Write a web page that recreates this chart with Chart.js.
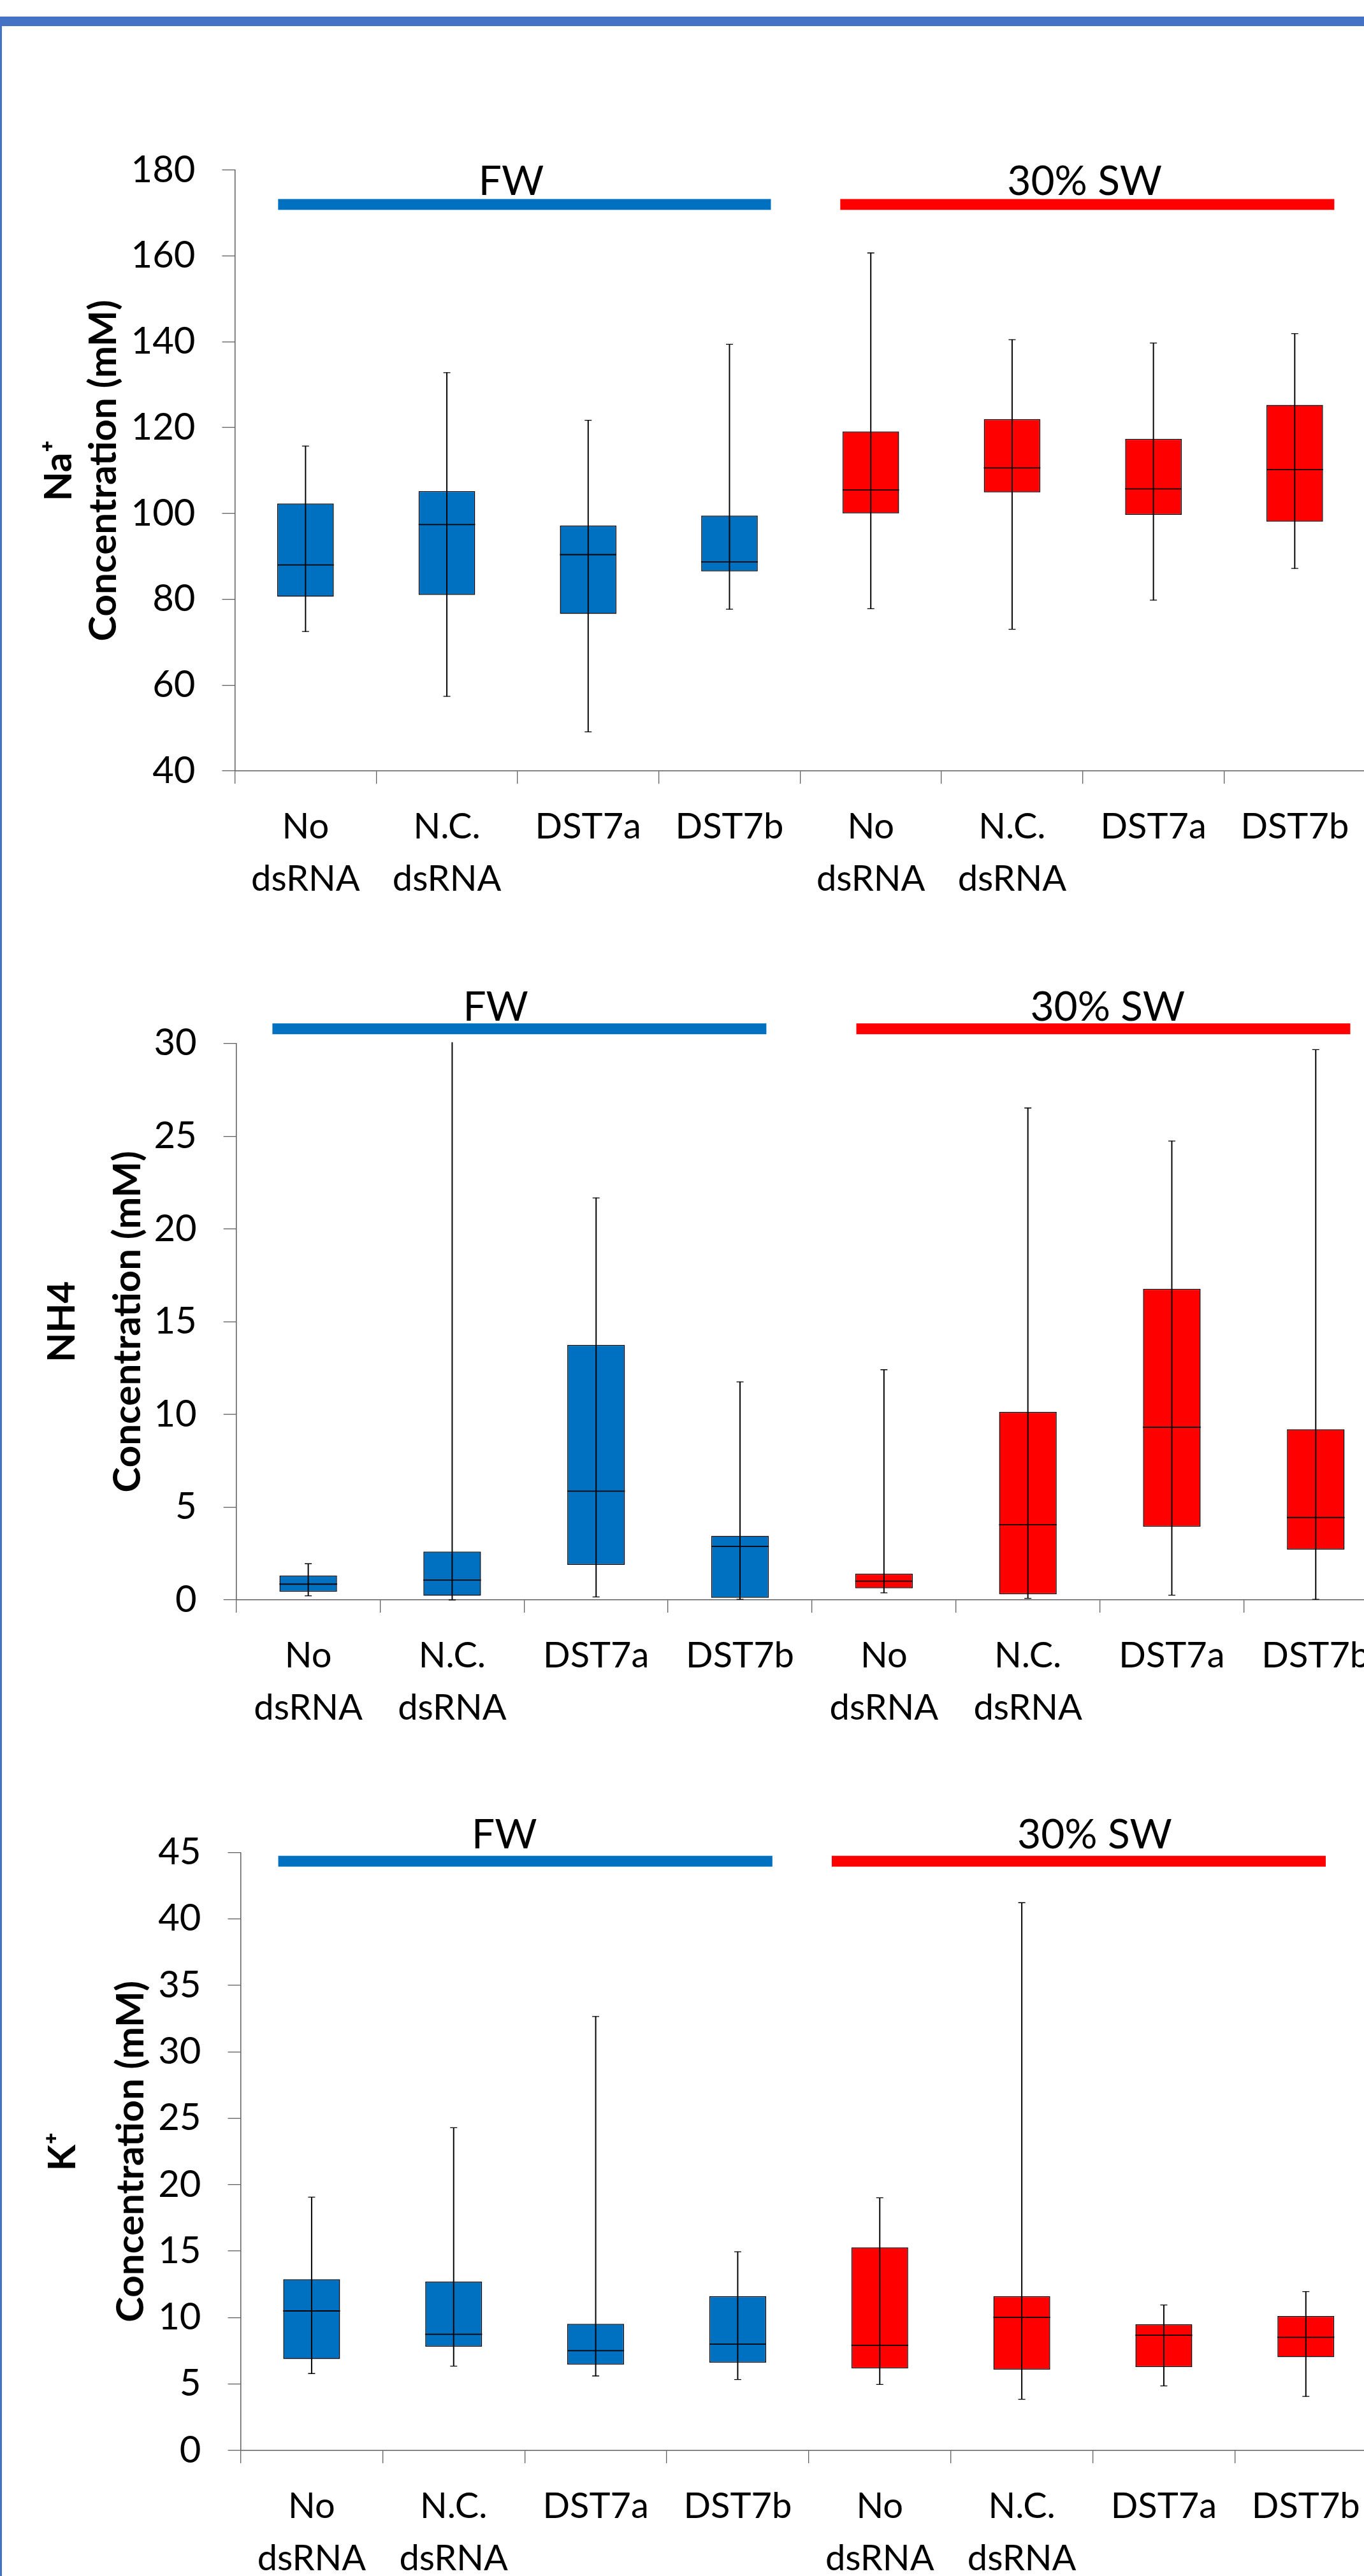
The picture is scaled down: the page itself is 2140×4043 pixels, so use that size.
<!DOCTYPE html>
<html>
<head>
<meta charset="utf-8">
<title>Na+, NH4 and K+ concentrations</title>
<script src="https://cdn.jsdelivr.net/npm/chart.js@4"></script>
<style>
  html, body { margin: 0; padding: 0; background: #fff; overflow: hidden; width: 2140px; height: 4043px; }
  canvas { position: absolute; left: 0; }
  #frameTop { position: absolute; left: 0; top: 26px; width: 2140px; height: 15px; background: #4472C4; z-index: 2; }
  #frameLeft { position: absolute; left: 0; top: 26px; width: 3px; height: 4017px; background: #4472C4; z-index: 2; }
</style>
</head>
<body>
<canvas id="naChart" width="2149" height="1380" style="top:60px"></canvas>
<canvas id="nhChart" width="2184" height="1279" style="top:1447px"></canvas>
<canvas id="kChart" width="2167" height="1308" style="top:2735px"></canvas>
<div id="frameTop"></div>
<div id="frameLeft"></div>
<script>
// categories, in plot order
const categories = [['No', 'dsRNA'], ['N.C.', 'dsRNA'], 'DST7a', 'DST7b',
                    ['No', 'dsRNA'], ['N.C.', 'dsRNA'], 'DST7a', 'DST7b'];
const groupLabels = ['FW', '30% SW'];
const groupOf = [0, 0, 0, 0, 1, 1, 1, 1];
const groupColors = ['#0070C0', '#FF0000'];

// Na+ (mM)
const naMin    = [72.5, 57.4, 49.1, 77.7, 77.8, 73.0, 79.8, 87.2];
const naQ1     = [80.6, 81.0, 76.6, 86.5, 100.0, 104.9, 99.7, 98.1];
const naMedian = [88.0, 97.4, 90.4, 88.7, 105.5, 110.6, 105.7, 110.2];
const naQ3     = [102.3, 105.2, 97.2, 99.5, 119.1, 122.0, 117.4, 125.3];
const naMax    = [115.7, 132.8, 121.7, 139.4, 160.7, 140.5, 139.7, 141.9];

// NH4 (mM) - N.C. FW whisker runs off the top of the axis
const nhMin    = [0.22, 0.0, 0.16, 0.03, 0.38, 0.08, 0.25, 0.03];
const nhQ1     = [0.44, 0.22, 1.89, 0.11, 0.63, 0.30, 3.94, 2.71];
const nhMedian = [0.85, 1.07, 5.86, 2.88, 1.01, 4.05, 9.31, 4.44];
const nhQ3     = [1.31, 2.60, 13.75, 3.45, 1.42, 10.13, 16.77, 9.20];
const nhMax    = [1.95, 31.0, 21.67, 11.75, 12.41, 26.52, 24.74, 29.67];

// K+ (mM)
const kMin    = [5.79, 6.35, 5.61, 5.34, 4.97, 3.85, 4.86, 4.07];
const kQ1     = [6.88, 7.81, 6.46, 6.61, 6.17, 6.09, 6.28, 7.02];
const kMedian = [10.50, 8.74, 7.51, 8.00, 7.92, 10.01, 8.67, 8.52];
const kQ3     = [12.89, 12.71, 9.53, 11.62, 15.28, 11.62, 9.49, 10.12];
const kMax    = [19.06, 24.29, 32.66, 14.95, 19.02, 41.22, 10.95, 11.96];

const axisColor = '#5f5f5f';

// FW / 30% SW bars above the boxes, placed in category units
const groupBars = {
  id: 'groupBars',
  afterDraw(chart, args, opts) {
    const { ctx, scales: { x, y } } = chart;
    const yc = y.getPixelForValue(opts.level);
    ctx.save();
    groupLabels.forEach((label, i) => {
      const x0 = x.getPixelForValue(opts.spans[i][0]);
      const x1 = x.getPixelForValue(opts.spans[i][1]);
      ctx.fillStyle = groupColors[i];
      ctx.fillRect(x0, yc - 8.5, x1 - x0, 17);
      ctx.fillStyle = '#000';
      ctx.font = '64px Lato';
      ctx.textAlign = 'center';
      ctx.textBaseline = 'alphabetic';
      ctx.fillText(label, x.getPixelForValue(opts.textAt[i]), yc - 8.5 - opts.gap);
    });
    ctx.restore();
  }
};

const panels = [
  { id: 'naChart', min: naMin, q1: naQ1, median: naMedian, q3: naQ3, max: naMax,
    yMin: 40, yMax: 180, yStep: 20, title: ['Na\u207A', 'Concentration (mM)'],
    axisX: 368.5, padTop: 207, xAxisHeight: 230, titleLineHeight: 1.158, titlePad: 58,
    level: 172, spans: [[-0.194, 3.293], [3.784, 7.28]], textAt: [1.455, 5.513], gap: 6.7 },
  { id: 'nhChart', min: nhMin, q1: nhQ1, median: nhMedian, q3: nhQ3, max: nhMax,
    yMin: 0, yMax: 30, yStep: 5, title: ['NH4', 'Concentration (mM)'],
    axisX: 370.7, padTop: 190.7, xAxisHeight: 215, titleLineHeight: 1.708, titlePad: 46.75,
    level: 30.79, spans: [[-0.249, 3.183], [3.808, 7.24]], textAt: [1.302, 5.554], gap: 3.8 },
  { id: 'kChart', min: kMin, q1: kQ1, median: kMedian, q3: kQ3, max: kMax,
    yMin: 0, yMax: 45, yStep: 5, title: ['K\u207A', 'Concentration (mM)'],
    axisX: 377.5, padTop: 172.4, xAxisHeight: 197, titleLineHeight: 1.787, titlePad: 44.8,
    level: 44.34, spans: [[-0.235, 3.244], [3.662, 7.14]], textAt: [1.357, 5.513], gap: 12 }
];

function makeChart(p) {
  const n = categories.length;
  const halfBox = (ctx) => ctx.chart.scales.x.width / n * 0.4 / 2;
  const marks = { type: 'line', showLine: false, pointStyle: 'line', pointBorderColor: '#000', order: 0, clip: 2 };

  return new Chart(document.getElementById(p.id), {
    type: 'bar',
    plugins: [groupBars],
    data: {
      labels: categories,
      datasets: [
        { ...marks, data: p.median, pointRadius: halfBox, pointBorderWidth: 1.8 },
        { ...marks, data: p.max, pointRadius: 5.5, pointBorderWidth: 1.3 },
        { ...marks, data: p.min, pointRadius: 5.5, pointBorderWidth: 1.3 },
        {
          data: p.min.map((v, i) => [v, p.max[i]]),
          backgroundColor: '#000',
          barThickness: 1.3,
          grouped: false,
          order: 1,
          clip: 2
        },
        {
          data: p.q1.map((v, i) => [v, p.q3[i]]),
          backgroundColor: groupOf.map(g => groupColors[g]),
          borderColor: '#000',
          borderWidth: 1.5,
          borderSkipped: false,
          categoryPercentage: 1,
          barPercentage: 0.4,
          grouped: false,
          order: 2,
          clip: 2
        }
      ]
    },
    options: {
      responsive: false,
      animation: false,
      events: [],
      layout: { padding: { top: p.padTop, left: 0, right: 0, bottom: 0 } },
      plugins: {
        legend: { display: false },
        tooltip: { enabled: false },
        groupBars: { level: p.level, spans: p.spans, textAt: p.textAt, gap: p.gap }
      },
      scales: {
        x: {
          offset: true,
          grid: { offset: true, drawOnChartArea: false, tickLength: 20, color: axisColor, lineWidth: 1.3 },
          border: { color: axisColor, width: 1.5 },
          ticks: {
            color: '#000',
            padding: 27,
            autoSkip: false,
            maxRotation: 0,
            font: { family: 'Lato', size: 56, lineHeight: 82 / 56 }
          },
          afterFit: (s) => { s.height = p.xAxisHeight; }
        },
        y: {
          min: p.yMin,
          max: p.yMax,
          ticks: { stepSize: p.yStep, color: '#000', padding: 42, font: { family: 'Lato', size: 58 } },
          grid: { drawOnChartArea: false, tickLength: 20, color: axisColor, lineWidth: 1.3 },
          border: { color: axisColor, width: 1.5 },
          title: {
            display: true,
            text: p.title,
            color: '#000',
            font: { family: 'Lato', size: 60, weight: 'bold', lineHeight: p.titleLineHeight },
            padding: { top: p.titlePad, bottom: 0 }
          },
          afterFit: (s) => { s.width = p.axisX; }
        }
      }
    }
  });
}

panels.forEach(makeChart);
</script>
</body>
</html>
